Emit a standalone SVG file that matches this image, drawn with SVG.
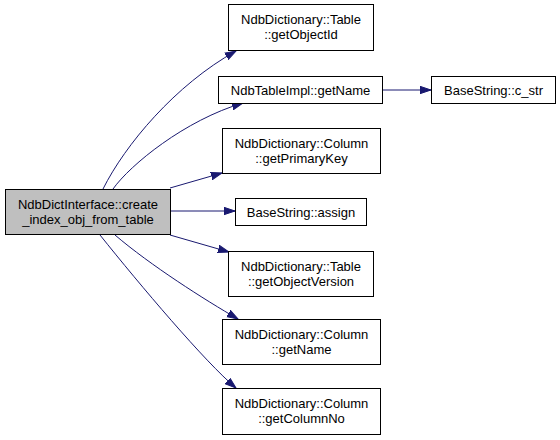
<svg xmlns="http://www.w3.org/2000/svg" width="560" height="440" viewBox="0 0 560 440">
<style>
.n rect{fill:#ffffff;stroke:#000000;stroke-width:1}
.n.m rect{fill:#bfbfbf}
text{font-family:"Liberation Sans",Arial,sans-serif;font-size:13px;fill:#000000;text-anchor:middle}
.e path{fill:none;stroke:#191970;stroke-width:1;marker-end:url(#ah)}
</style>
<defs>
<marker id="ah" markerWidth="12" markerHeight="9" refX="11" refY="4.5" orient="auto" markerUnits="userSpaceOnUse">
<path d="M0,0.8 L11,4.5 L0,8.2 z" fill="#191970" stroke="#191970" stroke-width="1"/>
</marker>
</defs>
<rect width="560" height="440" fill="#ffffff"/>
<g class="e">
<path d="M103,189 C125,145 175,85 236,51"/>
<path d="M113,189 C130,165 185,120 243,103"/>
<path d="M170,188 L222,173"/>
<path d="M171,211 L235,211"/>
<path d="M170,235 L229,252"/>
<path d="M115,235 C150,265 205,300 238,319"/>
<path d="M100,235 C140,285 205,362 236,388"/>
<path d="M383,90 L431,90"/>
</g>
<g id="main" class="n m"><rect x="5.5" y="189.5" width="165" height="45"/><text x="88" y="209">NdbDictInterface::create</text><text x="88" y="224">_index_obj_from_table</text></g>
<g id="getObjectId" class="n"><rect x="228.5" y="4.5" width="145" height="46"/><text x="301" y="24">NdbDictionary::Table</text><text x="301" y="39">::getObjectId</text></g>
<g id="tableImplGetName" class="n"><rect x="218.5" y="76.5" width="164" height="27"/><text x="300.5" y="94.5">NdbTableImpl::getName</text></g>
<g id="c_str" class="n"><rect x="431.5" y="76.5" width="124" height="27"/><text x="493.5" y="94.5">BaseString::c_str</text></g>
<g id="getPrimaryKey" class="n"><rect x="222.5" y="128.5" width="158" height="45"/><text x="301.5" y="148">NdbDictionary::Column</text><text x="301.5" y="163">::getPrimaryKey</text></g>
<g id="assign" class="n"><rect x="235.5" y="198.5" width="131" height="27"/><text x="301" y="216.5">BaseString::assign</text></g>
<g id="getObjectVersion" class="n"><rect x="228.5" y="251.5" width="145" height="45"/><text x="301" y="271">NdbDictionary::Table</text><text x="301" y="286">::getObjectVersion</text></g>
<g id="columnGetName" class="n"><rect x="222.5" y="319.5" width="158" height="45"/><text x="301.5" y="339">NdbDictionary::Column</text><text x="301.5" y="354">::getName</text></g>
<g id="getColumnNo" class="n"><rect x="222.5" y="388.5" width="158" height="46"/><text x="301.5" y="408">NdbDictionary::Column</text><text x="301.5" y="423">::getColumnNo</text></g>
</svg>
